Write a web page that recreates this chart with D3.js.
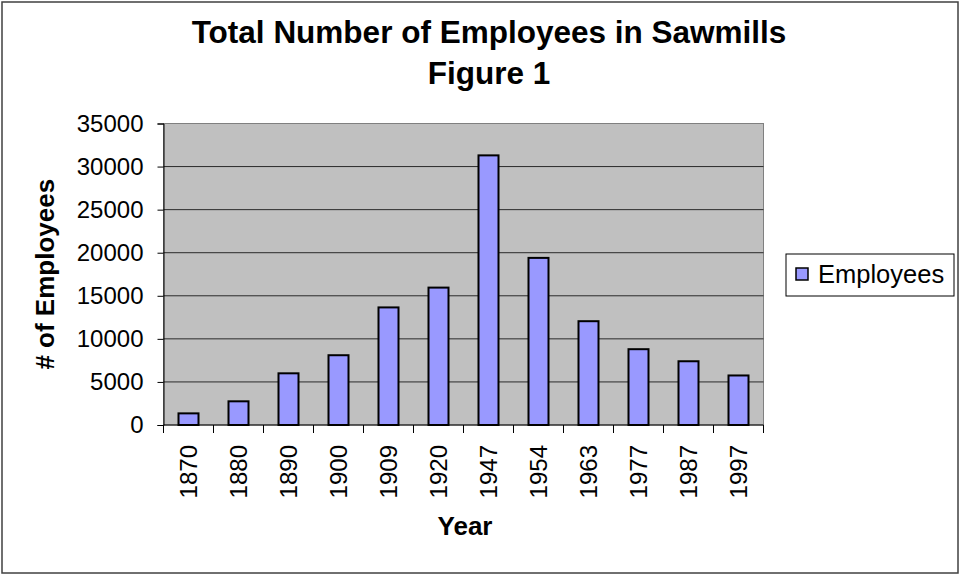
<!DOCTYPE html>
<html>
<head>
<meta charset="utf-8">
<script src="https://cdn.jsdelivr.net/npm/d3@7"></script>
<style>
  body { margin: 0; background: #fff; }
  text { font-family: "Liberation Sans", Arial, sans-serif; }
</style>
</head>
<body>
<script>
var years = ['1870', '1880', '1890', '1900', '1909', '1920', '1947', '1954', '1963', '1977', '1987', '1997'];
var employees = [1350, 2750, 6000, 8100, 13650, 15950, 31300, 19400, 12050, 8800, 7400, 5750];
var yTicks = [0, 5000, 10000, 15000, 20000, 25000, 30000, 35000];

var svg = d3.select('body').append('svg')
        .attr('width', 961)
        .attr('height', 575);

svg.append('rect')
  .attr('x', 2).attr('y', 2).attr('width', 956).attr('height', 571)
  .attr('fill', '#fff').attr('stroke', '#404040').attr('stroke-width', 1.5);

var pLeft = 163.5, pRight = 763.5, pTop = 123.5, pBottom = 425;

var x = d3.scaleBand().domain(years).range([pLeft, pRight]).paddingInner(0.6).paddingOuter(0.3);
var y = d3.scaleLinear().domain([0, 35000]).range([pBottom, pTop]);

// plot area
svg.append('rect')
  .attr('x', pLeft).attr('y', pTop).attr('width', pRight - pLeft).attr('height', pBottom - pTop)
  .attr('fill', '#c0c0c0').attr('stroke', '#808080').attr('stroke-width', 1);

// gridlines
svg.selectAll('line.grid')
  .data(yTicks.slice(1, -1))
  .enter().append('line')
    .attr('x1', pLeft).attr('x2', pRight)
    .attr('y1', function(d) { return y(d); })
    .attr('y2', function(d) { return y(d); })
    .attr('stroke', '#2a2a2a').attr('stroke-width', 1);

// bars
svg.selectAll('rect.bar')
  .data(employees)
  .enter().append('rect')
    .attr('x', function(d, i) { return x(years[i]); })
    .attr('y', function(d) { return y(d); })
    .attr('width', x.bandwidth())
    .attr('height', function(d) { return pBottom - y(d); })
    .attr('fill', '#9999ff').attr('stroke', '#000').attr('stroke-width', 2);

// y axis
var yAxis = svg.append('g')
  .attr('transform', 'translate(' + pLeft + ',0)')
  .call(d3.axisLeft(y).tickValues(yTicks).tickSize(6).tickPadding(14).tickFormat(d3.format('d')));
yAxis.select('.domain').attr('stroke', '#000');
yAxis.selectAll('.tick line').attr('stroke', '#000');
yAxis.selectAll('text').attr('font-size', 24).attr('fill', '#000')
  .style('font-family', '"Liberation Sans", Arial, sans-serif');

// x axis
svg.append('line')
  .attr('x1', pLeft).attr('x2', pRight).attr('y1', pBottom).attr('y2', pBottom)
  .attr('stroke', '#000');
var step = (pRight - pLeft) / years.length;
svg.selectAll('line.xtick')
  .data(d3.range(years.length + 1))
  .enter().append('line')
    .attr('x1', function(d) { return pLeft + d * step; })
    .attr('x2', function(d) { return pLeft + d * step; })
    .attr('y1', pBottom).attr('y2', pBottom + 8)
    .attr('stroke', '#000');

svg.selectAll('text.xlab')
  .data(years)
  .enter().append('text')
    .attr('transform', function(d) {
      return 'translate(' + (x(d) + x.bandwidth() / 2 + 8) + ',' + (pBottom + 20) + ') rotate(-90)';
    })
    .attr('text-anchor', 'end')
    .attr('font-size', 24)
    .text(function(d) { return d; });

// titles
svg.append('text')
  .attr('x', 489).attr('y', 43).attr('text-anchor', 'middle')
  .attr('font-size', 31.5).attr('font-weight', 'bold')
  .text('Total Number of Employees in Sawmills');
svg.append('text')
  .attr('x', 489).attr('y', 84).attr('text-anchor', 'middle')
  .attr('font-size', 31.5).attr('font-weight', 'bold')
  .text('Figure 1');

svg.append('text')
  .attr('transform', 'translate(54,' + ((pTop + pBottom) / 2) + ') rotate(-90)')
  .attr('text-anchor', 'middle')
  .attr('font-size', 26).attr('font-weight', 'bold')
  .text('# of Employees');

svg.append('text')
  .attr('x', 465).attr('y', 535).attr('text-anchor', 'middle')
  .attr('font-size', 26).attr('font-weight', 'bold')
  .text('Year');

// legend
svg.append('rect')
  .attr('x', 786).attr('y', 254).attr('width', 168).attr('height', 42)
  .attr('fill', '#fff').attr('stroke', '#000').attr('stroke-width', 1);
svg.append('rect')
  .attr('x', 796).attr('y', 268).attr('width', 12).attr('height', 12)
  .attr('fill', '#9999ff').attr('stroke', '#000').attr('stroke-width', 1.5);
svg.append('text')
  .attr('x', 818).attr('y', 283)
  .attr('font-size', 25.5)
  .text('Employees');
</script>
</body>
</html>
